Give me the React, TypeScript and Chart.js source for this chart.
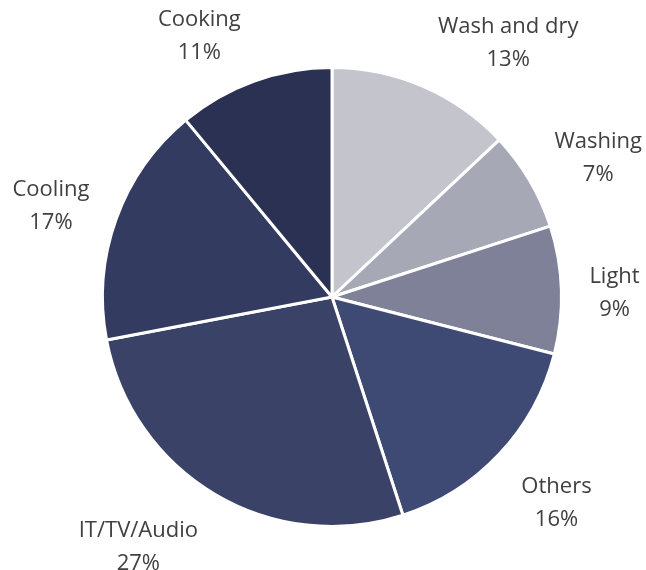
import React, { useEffect, useRef } from "react";
import { Chart, registerables } from "chart.js";

Chart.register(...registerables);

const categories = ["Wash and dry", "Washing", "Light", "Others", "IT/TV/Audio", "Cooling", "Cooking"];
const shares = [13, 7, 9, 16, 27, 17, 11];
const colors = ["#c3c4cc", "#a6a8b6", "#7f8199", "#3f4a74", "#3a4268", "#343b60", "#2b3152"];

const FONT = '22px "Open Sans", "Noto Sans", sans-serif';

const outsideLabels = {
  id: "outsideLabels",
  afterDatasetsDraw(chart: any) {
    const ctx = chart.ctx;
    const meta = chart.getDatasetMeta(0);
    ctx.save();
    ctx.font = FONT;
    ctx.fillStyle = "#404040";
    ctx.textBaseline = "middle";
    ctx.textAlign = "center";
    meta.data.forEach((arc: any, i: number) => {
      const { x, y, startAngle, endAngle, outerRadius } = arc.getProps(
        ["x", "y", "startAngle", "endAngle", "outerRadius"],
        true
      );
      const a = (startAngle + endAngle) / 2;
      const ca = Math.cos(a);
      const sa = Math.sin(a);
      const r = outerRadius + 22;
      const ax = x + r * ca;
      const ay = y + r * sa;
      const l1 = categories[i];
      const l2 = shares[i] + "%";
      const w = Math.max(ctx.measureText(l1).width, ctx.measureText(l2).width);
      const lh = 33;
      const half = 29;
      const side = ca >= 0 ? 1 : -1;
      const cx = ax + side * (w / 2 + 6);
      const k = sa > 0 ? Math.min(1, sa * 1.5) : Math.max(-1, sa * 1.05);
      const cy = ay + k * half + 5;
      ctx.fillText(l1, cx, cy - lh / 2);
      ctx.fillText(l2, cx, cy + lh / 2);
    });
    ctx.restore();
  },
};

export default function App() {
  const ref = useRef<HTMLCanvasElement>(null);
  useEffect(() => {
    document.body.style.margin = "0";
    const chart = new Chart(ref.current!, {
      type: "pie",
      data: {
        labels: categories,
        datasets: [
          {
            data: shares,
            backgroundColor: colors,
            borderColor: "#ffffff",
            borderWidth: 3,
          },
        ],
      },
      options: {
        responsive: false,
        animation: false,
        layout: { padding: { left: 101, right: 83, top: 66, bottom: 42 } },
        plugins: {
          legend: { display: false },
          tooltip: { enabled: false },
        },
      },
      plugins: [outsideLabels],
    });
    return () => chart.destroy();
  }, []);
  return <canvas ref={ref} width={646} height={570} style={{ display: "block" }} />;
}
